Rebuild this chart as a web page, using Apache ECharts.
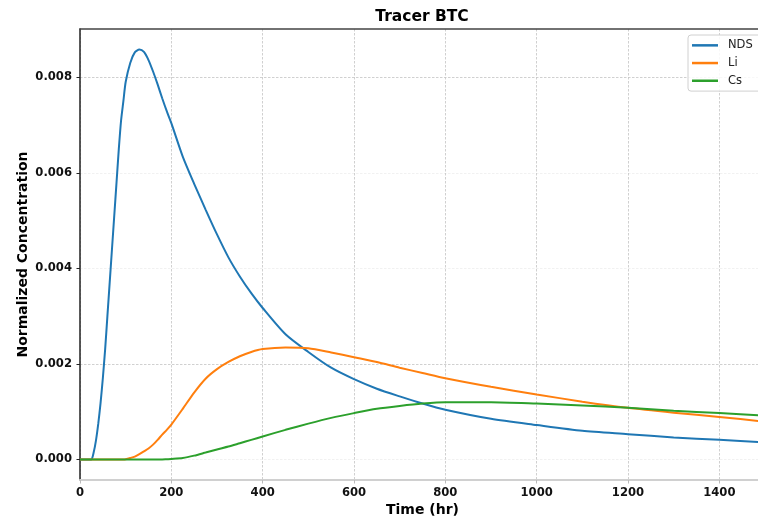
<!DOCTYPE html>
<html>
<head>
<meta charset="utf-8">
<script src="https://cdn.jsdelivr.net/npm/echarts@6/dist/echarts.min.js"></script>
<style>
  html, body { margin: 0; padding: 0; background: #fff; }
  #chart { width: 758px; height: 521px; }
</style>
</head>
<body>
<div id="chart"></div>
<script>
// Breakthrough curves: time (hr) vs normalized concentration
const times = [0, 20, 25, 30, 35, 40, 45, 50, 55, 60, 65, 70, 75, 80, 85, 90, 95, 100,
  110, 120, 130, 140, 150, 160, 170, 180, 190, 200, 225, 250, 275, 300, 325, 350, 375,
  400, 450, 500, 550, 600, 650, 700, 750, 800, 900, 1000, 1100, 1200, 1300, 1400, 1500];

const nds = [0, 0, 0, 0.00015, 0.0004, 0.00075, 0.00118, 0.0017, 0.0023, 0.003, 0.0037,
  0.0044, 0.0051, 0.0058, 0.0065, 0.0071, 0.0075, 0.0079,
  0.0083, 0.00852, 0.00858, 0.00853, 0.00836, 0.00812, 0.00785, 0.00756, 0.00729, 0.00704,
  0.00634, 0.00577, 0.00523, 0.00471, 0.00423, 0.00383, 0.00348,
  0.00317, 0.00262, 0.00225, 0.00192, 0.00168, 0.00148, 0.00132, 0.00117, 0.00104,
  0.00085, 0.00072, 0.0006, 0.00053, 0.00046, 0.00041, 0.00036];

const li = [0, 0, 0, 0, 0, 0, 0, 0, 0, 0, 0, 0, 0, 0, 0, 0, 0, 0.000005,
  0.00003, 0.00006, 0.00011, 0.00017, 0.00023, 0.00031, 0.00041, 0.00052, 0.00062, 0.00073,
  0.00106, 0.0014, 0.00169, 0.00189, 0.00204, 0.00216, 0.00225,
  0.00231, 0.002345, 0.00233, 0.00224, 0.00214, 0.00204, 0.00192, 0.00181, 0.0017,
  0.00152, 0.00136, 0.00121, 0.00108, 0.00098, 0.00089, 0.00079];

const cs = [0, 0, 0, 0, 0, 0, 0, 0, 0, 0, 0, 0, 0, 0, 0, 0, 0, 0,
  0, 0, 0, 0, 0, 0, 0, 0, 0.000005, 0.00001,
  0.00003, 0.00008, 0.000145, 0.00021, 0.00027, 0.00034, 0.00041,
  0.00048, 0.00062, 0.00075, 0.00087, 0.00097, 0.00106, 0.00112, 0.00117, 0.0012,
  0.0012, 0.00117, 0.00113, 0.00108, 0.00102, 0.00097, 0.00092];

const xTicks = [0, 200, 400, 600, 800, 1000, 1200, 1400];
const yTicks = [0, 0.002, 0.004, 0.006, 0.008];

const seriesNames = ['NDS', 'Li', 'Cs'];
const seriesColors = ['#1f77b4', '#ff7f0e', '#2ca02c'];
const seriesValues = [nds, li, cs];

const FONT = 'DejaVu Sans';
const chart = echarts.init(document.getElementById('chart'));

const pairs = vals => times.map((t, i) => [t, vals[i]]);

chart.setOption({
  animation: false,
  backgroundColor: '#ffffff',
  grid: { left: 80, top: 29, right: -7, bottom: 41, containLabel: false, outerBoundsMode: 'none' },
  graphic: [{
    type: 'text',
    x: 422, y: 17,
    style: {
      text: 'Tracer BTC',
      textAlign: 'center', textVerticalAlign: 'middle',
      font: 'bold 15.5px "DejaVu Sans"', fill: '#000'
    }
  }],
  legend: {
    orient: 'vertical',
    left: 688, top: 35,
    padding: [1.5, 10, 1.5, 4],
    itemGap: 0,
    itemWidth: 26, itemHeight: 2.5,
    icon: 'rect',
    backgroundColor: 'rgba(255,255,255,0.85)',
    borderColor: '#d0d0d0', borderWidth: 1, borderRadius: 3,
    textStyle: { fontFamily: FONT, fontSize: 11.5, color: '#222', lineHeight: 17.7, padding: [0, 0, 0, 5] },
    data: seriesNames
  },
  xAxis: [{
    type: 'value', min: 0, max: 1500,
    name: 'Time (hr)', nameLocation: 'middle', nameGap: 23, nameMoveOverlap: false,
    nameTextStyle: { fontFamily: FONT, fontWeight: 'bold', fontSize: 14, color: '#000' },
    axisLine: { show: true, onZero: false, lineStyle: { color: '#d0d0d0', width: 2 } },
    axisTick: { show: true, length: 3.5, customValues: xTicks, lineStyle: { color: '#bbbbbb', width: 1 } },
    axisLabel: {
      customValues: xTicks, margin: 7,
      fontFamily: FONT, fontWeight: 'bold', fontSize: 11.6, color: '#111',
      formatter: v => String(v)
    },
    splitLine: { show: true, lineStyle: { color: '#c4c4c4', width: 0.8, type: [2.5, 1.5] } }
  }, {
    type: 'value', min: 0, max: 1500, position: 'top',
    axisLine: { show: true, onZero: false, lineStyle: { color: '#444', width: 1.5 } },
    axisTick: { show: false }, axisLabel: { show: false }, splitLine: { show: false }
  }],
  yAxis: {
    type: 'value', min: -0.00043, max: 0.00901,
    name: 'Normalized Concentration', nameLocation: 'middle', nameGap: 50, nameMoveOverlap: false,
    nameTextStyle: { fontFamily: FONT, fontWeight: 'bold', fontSize: 14, color: '#000' },
    axisLine: { show: true, onZero: false, lineStyle: { color: '#222', width: 1.5 } },
    axisTick: { show: true, length: 3.5, customValues: yTicks, lineStyle: { color: '#222', width: 1 } },
    axisLabel: {
      customValues: yTicks, margin: 8,
      fontFamily: FONT, fontWeight: 'bold', fontSize: 11.6, color: '#111',
      formatter: v => v.toFixed(3)
    },
    splitLine: {
      show: true,
      lineStyle: { color: ['#eeeeee', '#c4c4c4', '#eeeeee', '#eeeeee', '#c4c4c4'], width: 0.8, type: [2.5, 1.5] }
    }
  },
  series: seriesNames.map((name, i) => ({
    name, type: 'line', xAxisIndex: 0,
    data: pairs(seriesValues[i]),
    showSymbol: false, symbol: 'none',
    smooth: 0.25,
    color: seriesColors[i],
    lineStyle: { color: seriesColors[i], width: 2 },
    z: 3 + i
  }))
});
</script>
</body>
</html>
